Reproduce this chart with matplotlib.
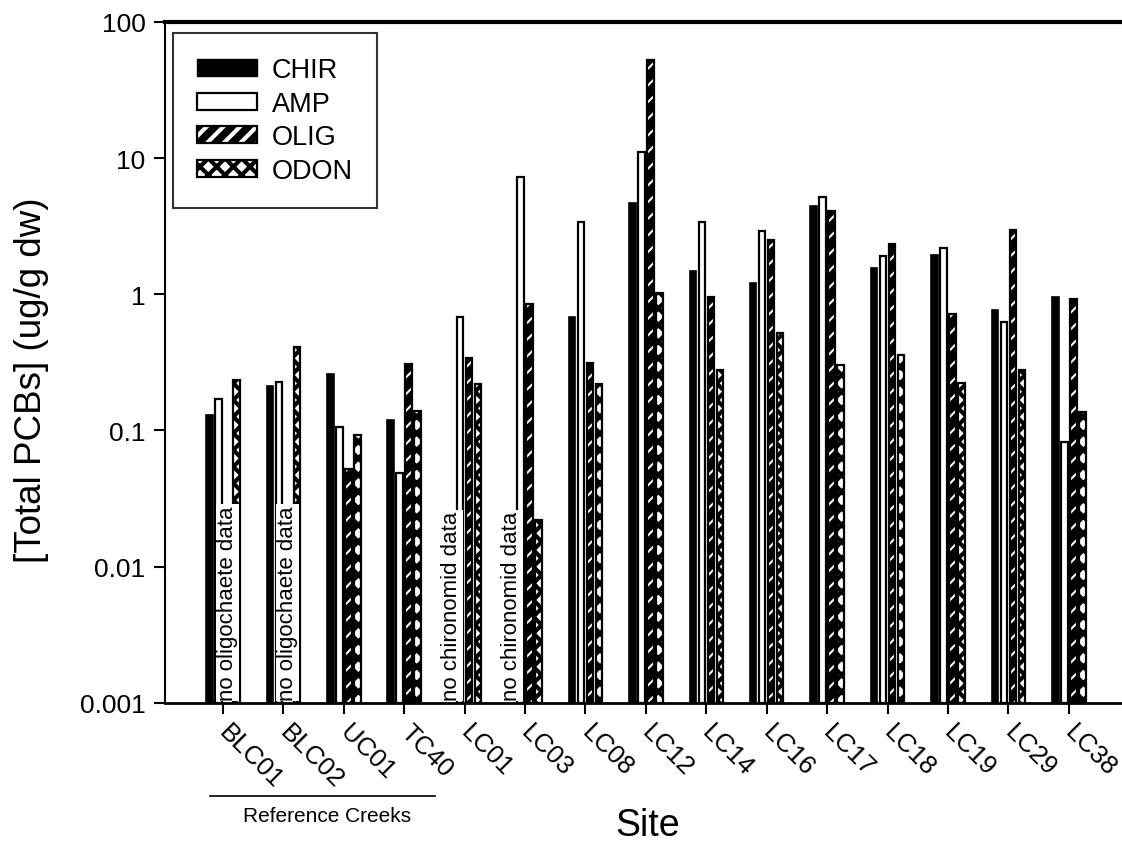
import numpy as np
import matplotlib
matplotlib.use('Agg')
import matplotlib.pyplot as plt
from matplotlib.patches import Patch

plt.rcParams['font.family'] = ['Liberation Sans', 'DejaVu Sans']

# total PCBs by site and taxon (ug/g dw); nan = no data
sites = ['BLC01', 'BLC02', 'UC01', 'TC40', 'LC01', 'LC03', 'LC08', 'LC12',
         'LC14', 'LC16', 'LC17', 'LC18', 'LC19', 'LC29', 'LC38']
chir = [0.129, 0.211, 0.257, 0.118, np.nan, np.nan, 0.68, 4.69,
        1.49, 1.21, 4.44, 1.56, 1.95, 0.77, 0.946]
amp = [0.168, 0.226, 0.105, 0.048, 0.68, 7.3, 3.4, 11.0,
       3.38, 2.89, 5.16, 1.90, 2.18, 0.62, 0.081]
olig = [np.nan, np.nan, 0.051, 0.305, 0.34, 0.85, 0.31, 52.6,
        0.95, 2.48, 4.05, 2.34, 0.71, 2.94, 0.914]
odon = [0.235, 0.409, 0.091, 0.137, 0.22, 0.021, 0.22, 1.02,
        0.275, 0.52, 0.30, 0.355, 0.223, 0.275, 0.135]

no_data = [(0, 2, 'no oligochaete data'), (1, 2, 'no oligochaete data'),
           (4, 0, 'no chironomid data'), (5, 0, 'no chironomid data')]

x = np.arange(len(sites))
w = 0.108
step = 0.149
offs = (np.arange(4) - 1.5) * step
base = 1e-3

fig = plt.figure(figsize=(11.22, 8.45), dpi=100)
ax = fig.add_axes([0.147, 0.167, 0.853, 0.806])

ax.bar(x + offs[0], chir, w, bottom=base, color='black', edgecolor='black', lw=1.2, zorder=3)
ax.bar(x + offs[1], amp, w, bottom=base, color='white', edgecolor='black', lw=1.6, zorder=3)
# oligochaetes: black fill with white slashes, then a black outline on top
plt.rcParams['hatch.linewidth'] = 1.5
ax.bar(x + offs[2], olig, w, bottom=base, color='black', edgecolor='white', hatch='//', lw=0, zorder=3)
ax.bar(x + offs[2], olig, w, bottom=base, fill=False, edgecolor='black', lw=1.6, zorder=4)
h_olig = (Patch(facecolor='black', edgecolor='white', hatch='//', lw=0),
          Patch(fill=False, edgecolor='black', lw=1.6))
# odonates: heavy cross-hatch, mostly black with white holes
plt.rcParams['hatch.linewidth'] = 3.0
ax.bar(x + offs[3], odon, w, bottom=base, color='white', edgecolor='black', hatch='xx', lw=1.6, zorder=3)
h_odon = Patch(facecolor='white', edgecolor='black', hatch='xx', lw=1.6)

for i, j, txt in no_data:
    ax.text(x[i] + offs[j], base * 1.05, txt, rotation=90, ha='center', va='bottom',
            fontsize=16, zorder=6,
            bbox=dict(boxstyle='square,pad=0.05', facecolor='white', edgecolor='none'))

ax.set_yscale('log')
ax.set_ylim(1e-3, 100)
ax.set_xlim(-0.96, 14.88)
ax.set_yticks([0.001, 0.01, 0.1, 1, 10, 100])
ax.set_yticklabels(['0.001', '0.01', '0.1', '1', '10', '100'])
ax.yaxis.set_minor_locator(matplotlib.ticker.NullLocator())
ax.tick_params(axis='y', which='major', length=8, width=1.5, labelsize=19, pad=6)
ax.tick_params(axis='x', length=8, width=1.5, pad=4)
ax.set_xticks(x)
ax.set_xticklabels(sites, rotation=-45, ha='left', va='center', rotation_mode='anchor',
                   fontsize=18.5)
for lab in ax.get_xticklabels():
    lab.set_y(-0.012)

ax.spines['right'].set_visible(False)
ax.spines['top'].set_linewidth(3)
ax.spines['left'].set_linewidth(1.5)
ax.spines['bottom'].set_linewidth(2)

fig.text(32 / 1122, 1 - 380 / 845, '[Total PCBs] (ug/g dw)', fontsize=26.5,
         rotation=90, ha='center', va='center')
fig.text(648 / 1122, 1 - 826 / 845, 'Site', fontsize=27, ha='center', va='center')

# bracket under the reference sites
fig.add_artist(plt.Line2D([210 / 1122, 435 / 1122], [1 - 797 / 845] * 2, color='black', lw=1.2))
fig.text(327 / 1122, 1 - 817 / 845, 'Reference Creeks', fontsize=15, ha='center', va='center')

# legend
handles = [Patch(facecolor='black', edgecolor='black'),
           Patch(facecolor='white', edgecolor='black', lw=1.6),
           h_olig, h_odon]
leg = ax.legend(handles, ['CHIR', 'AMP', 'OLIG', 'ODON'], loc='upper left',
                bbox_to_anchor=(0.0084, 0.984), fontsize=19.5, frameon=True, fancybox=False,
                handlelength=2.2, handleheight=0.6, labelspacing=0.28, borderpad=0.9,
                handletextpad=0.55, borderaxespad=0)
leg.get_frame().set_edgecolor('black')
leg.get_frame().set_linewidth(1.5)
leg.set_zorder(10)

plt.savefig('out.png', dpi=100)
